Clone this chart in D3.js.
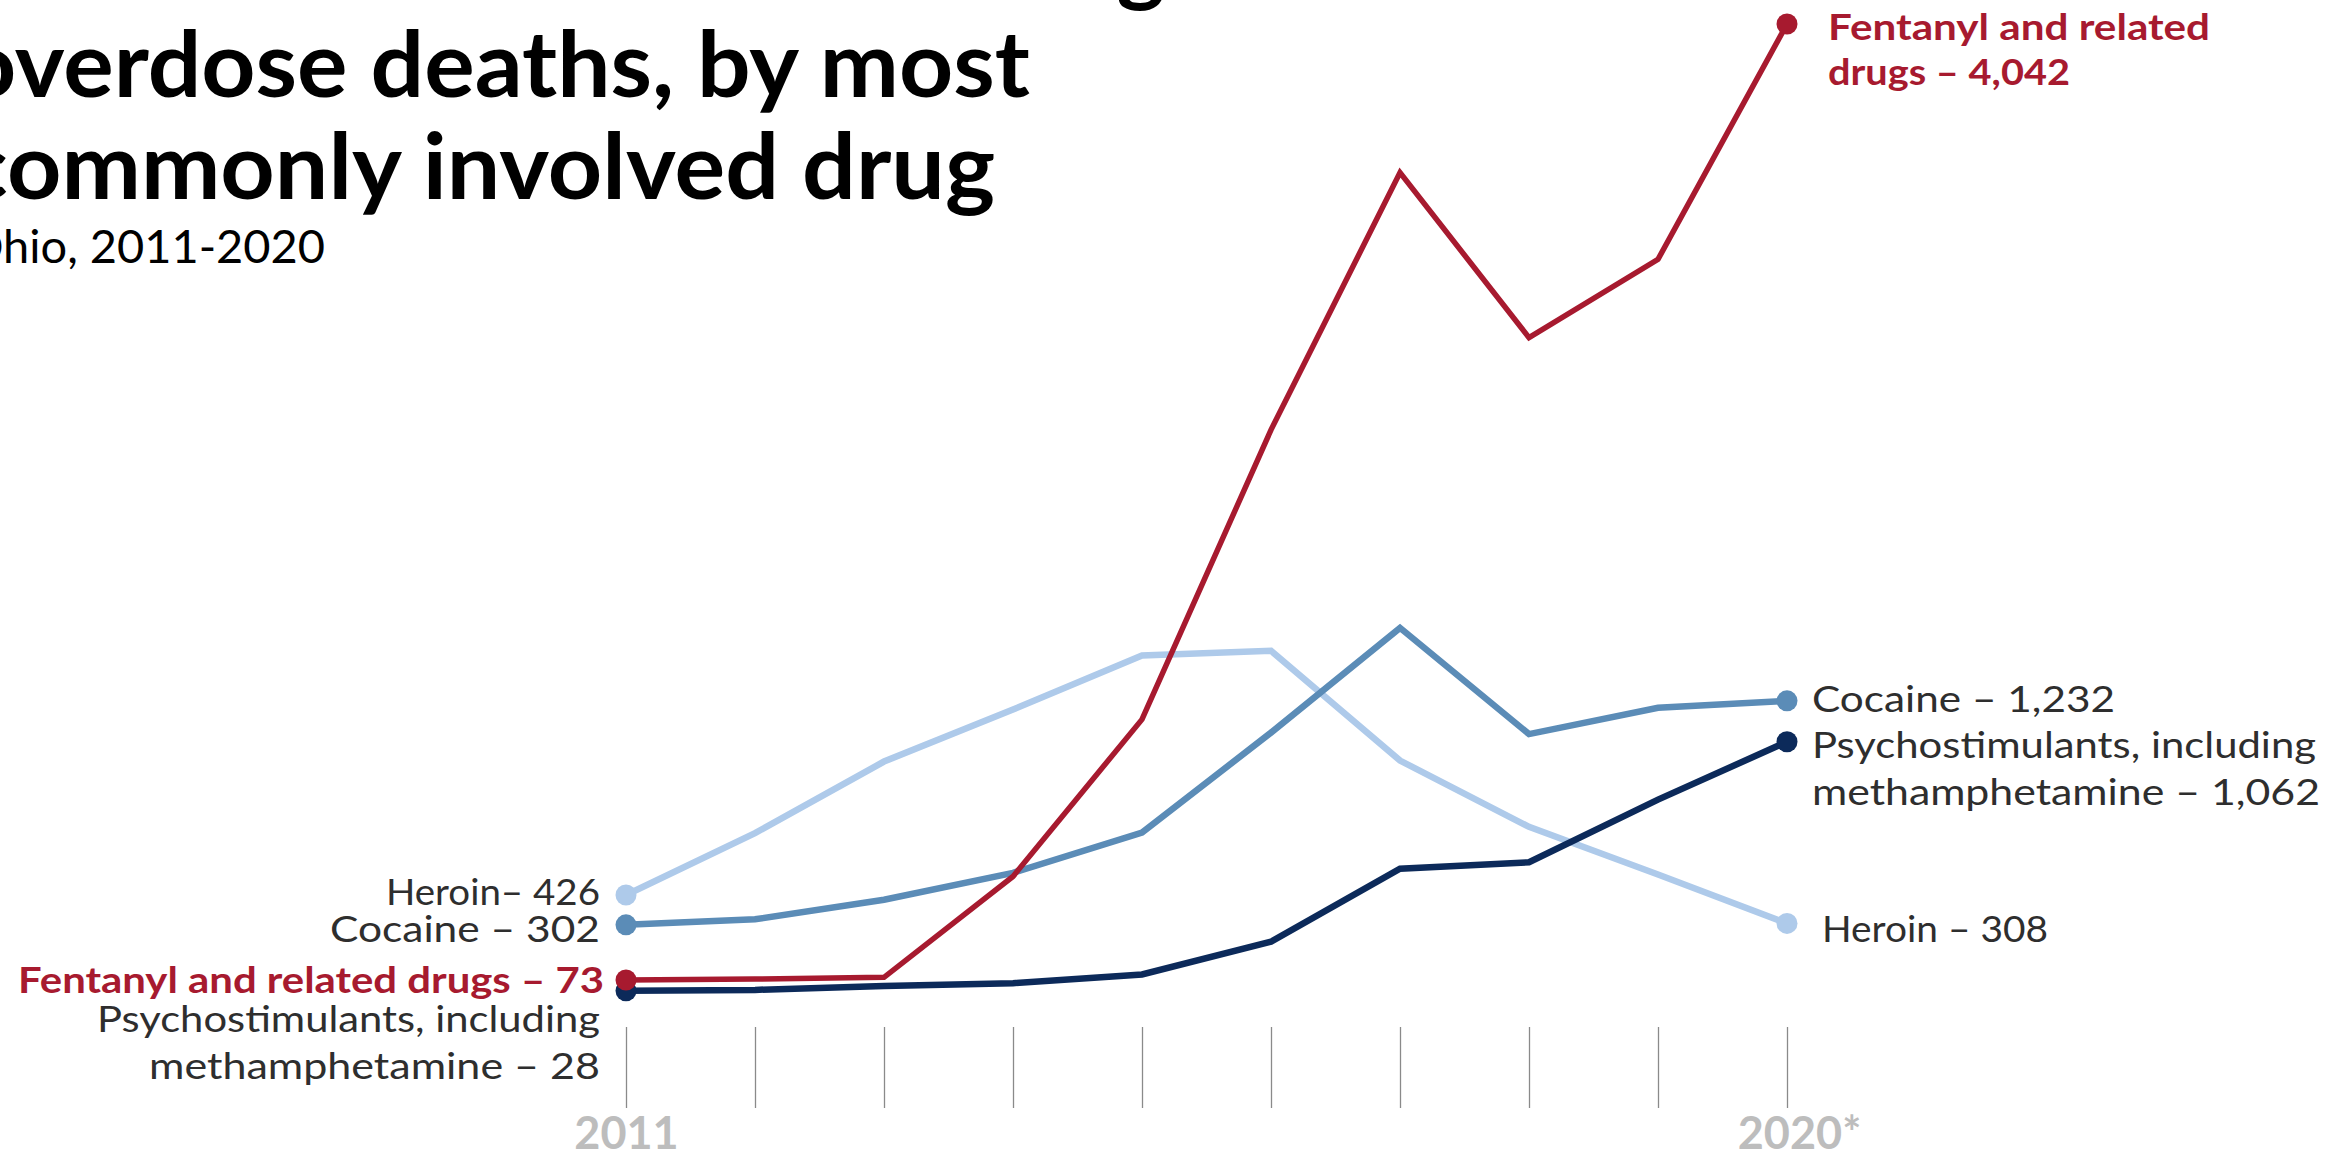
<!DOCTYPE html>
<html>
<head>
<meta charset="utf-8">
<script src="https://cdn.jsdelivr.net/npm/d3@7"></script>
<style>
body { margin: 0; background: #fff; overflow: hidden; }
svg text { font-family: Lato, "DejaVu Sans", sans-serif; }
</style>
</head>
<body>
<svg></svg>
<script>
// overdose deaths by drug, Ohio 2011-2020
var years = [2011, 2012, 2013, 2014, 2015, 2016, 2017, 2018, 2019, 2020];
var yearLabels = ["2011", "", "", "", "", "", "", "", "", "2020*"];

var heroin   = [426, 683, 980, 1196, 1420, 1440, 984, 709, 511, 308];
var cocaine  = [302, 325, 406, 518, 685, 1100, 1535, 1094, 1203, 1232];
var psycho   = [28, 32, 48, 60, 96, 232, 535, 562, 822, 1062];
var fentanyl = [73, 77, 84, 503, 1155, 2357, 3425, 2740, 3065, 4042];

var seriesNames  = ["Heroin", "Cocaine", "Psychostimulants", "Fentanyl"];
var seriesColors = ["#aecaea", "#5b8cb7", "#0c2a5a", "#a71a2f"];

var titleLines = ["Unintentional drug", "overdose deaths, by most", "commonly involved drug"];
var subtitle = "Ohio, 2011-2020";

var screen = { width: 2351, height: 1152 };

var svg = d3.select("svg")
            .attr("width", screen.width)
            .attr("height", screen.height);

var xScale = d3.scaleLinear()
               .domain([2011, 2020])
               .range([626, 1787]);
var yScale = d3.scaleLinear()
               .domain([0, 4042])
               .range([997.6, 24]);

var series = [heroin, cocaine, psycho, fentanyl].map(function(vals, k) {
  return { name: seriesNames[k], color: seriesColors[k], values: vals };
});

// title
var title = svg.append("g").classed("title", true);
title.append("text")
     .attr("x", 1165).attr("y", -6)
     .attr("text-anchor", "end")
     .attr("font-size", 92).attr("font-weight", 700)
     .text(titleLines[0]);
title.append("text")
     .attr("x", -38).attr("y", 97)
     .attr("font-size", 92).attr("font-weight", 700)
     .attr("textLength", 1068).attr("lengthAdjust", "spacingAndGlyphs")
     .text(titleLines[1]);
title.append("text")
     .attr("x", -38).attr("y", 199)
     .attr("font-size", 92).attr("font-weight", 700)
     .attr("textLength", 1033).attr("lengthAdjust", "spacingAndGlyphs")
     .text(titleLines[2]);
title.append("text")
     .attr("x", -34).attr("y", 263)
     .attr("font-size", 46)
     .attr("textLength", 359).attr("lengthAdjust", "spacingAndGlyphs")
     .text(subtitle);

// year ticks
var xAxis = d3.axisBottom(xScale)
              .tickValues(years)
              .tickSizeInner(81)
              .tickSizeOuter(0)
              .tickPadding(9)
              .tickFormat(function(d, i) { return yearLabels[i]; });

var axisG = svg.append("g")
               .classed("xAxis", true)
               .attr("transform", "translate(0,1027)")
               .call(xAxis);
axisG.select(".domain").remove();
axisG.selectAll(".tick line")
     .attr("stroke", "#8a8a8a")
     .attr("stroke-width", 1.3);
axisG.selectAll(".tick text")
     .attr("font-size", 45)
     .attr("font-weight", 700)
     .attr("fill", "#bdbdbd")
     .attr("dx", function(d) { return d == 2020 ? 12 : 0; })
     .style("font-family", "Lato, sans-serif");

// lines
var line = d3.line()
             .x(function(d, i) { return xScale(years[i]); })
             .y(function(d) { return yScale(d); });

var lineLand = svg.append("g").classed("lines", true);
lineLand.selectAll("path")
        .data(series)
        .enter()
        .append("path")
        .attr("d", function(d) { return line(d.values); })
        .attr("fill", "none")
        .attr("stroke", function(d) { return d.color; })
        .attr("stroke-width", function(d) { return d.name == "Fentanyl" ? 5.5 : 6.5; });

// end dots
var dotLand = svg.append("g").classed("dots", true);
series.forEach(function(s) {
  [0, years.length - 1].forEach(function(i) {
    dotLand.append("circle")
           .attr("cx", xScale(years[i]))
           .attr("cy", yScale(s.values[i]))
           .attr("r", 10.5)
           .attr("fill", s.color);
  });
});

// labels: [text, x, baseline, width, anchor, bold]
var labels = [
  ["Heroin\u2013 426", 600, 905, 214, "end", false],
  ["Cocaine \u2013 302", 600, 942, 270, "end", false],
  ["Fentanyl and related drugs \u2013 73", 604, 993, 586, "end", true],
  ["Psychostimulants, including", 600, 1032, 503, "end", false],
  ["methamphetamine \u2013 28", 600, 1079, 451, "end", false],
  ["Fentanyl and related", 1828, 40, 382, "start", true],
  ["drugs \u2013 4,042", 1828, 85, 242, "start", true],
  ["Cocaine \u2013 1,232", 1812, 712, 303, "start", false],
  ["Psychostimulants, including", 1812, 758, 504, "start", false],
  ["methamphetamine \u2013 1,062", 1812, 805, 508, "start", false],
  ["Heroin \u2013 308", 1822, 942, 226, "start", false]
];

svg.append("g").classed("labels", true)
   .selectAll("text")
   .data(labels)
   .enter()
   .append("text")
   .attr("x", function(d) { return d[4] == "end" ? d[1] - d[3] : d[1]; })
   .attr("y", function(d) { return d[2]; })
   .attr("font-size", 37)
   .attr("font-weight", function(d) { return d[5] ? 700 : 400; })
   .attr("fill", function(d) { return d[5] ? seriesColors[3] : "#2e2e2e"; })
   .attr("textLength", function(d) { return d[3]; })
   .attr("lengthAdjust", "spacingAndGlyphs")
   .text(function(d) { return d[0]; });
</script>
</body>
</html>
